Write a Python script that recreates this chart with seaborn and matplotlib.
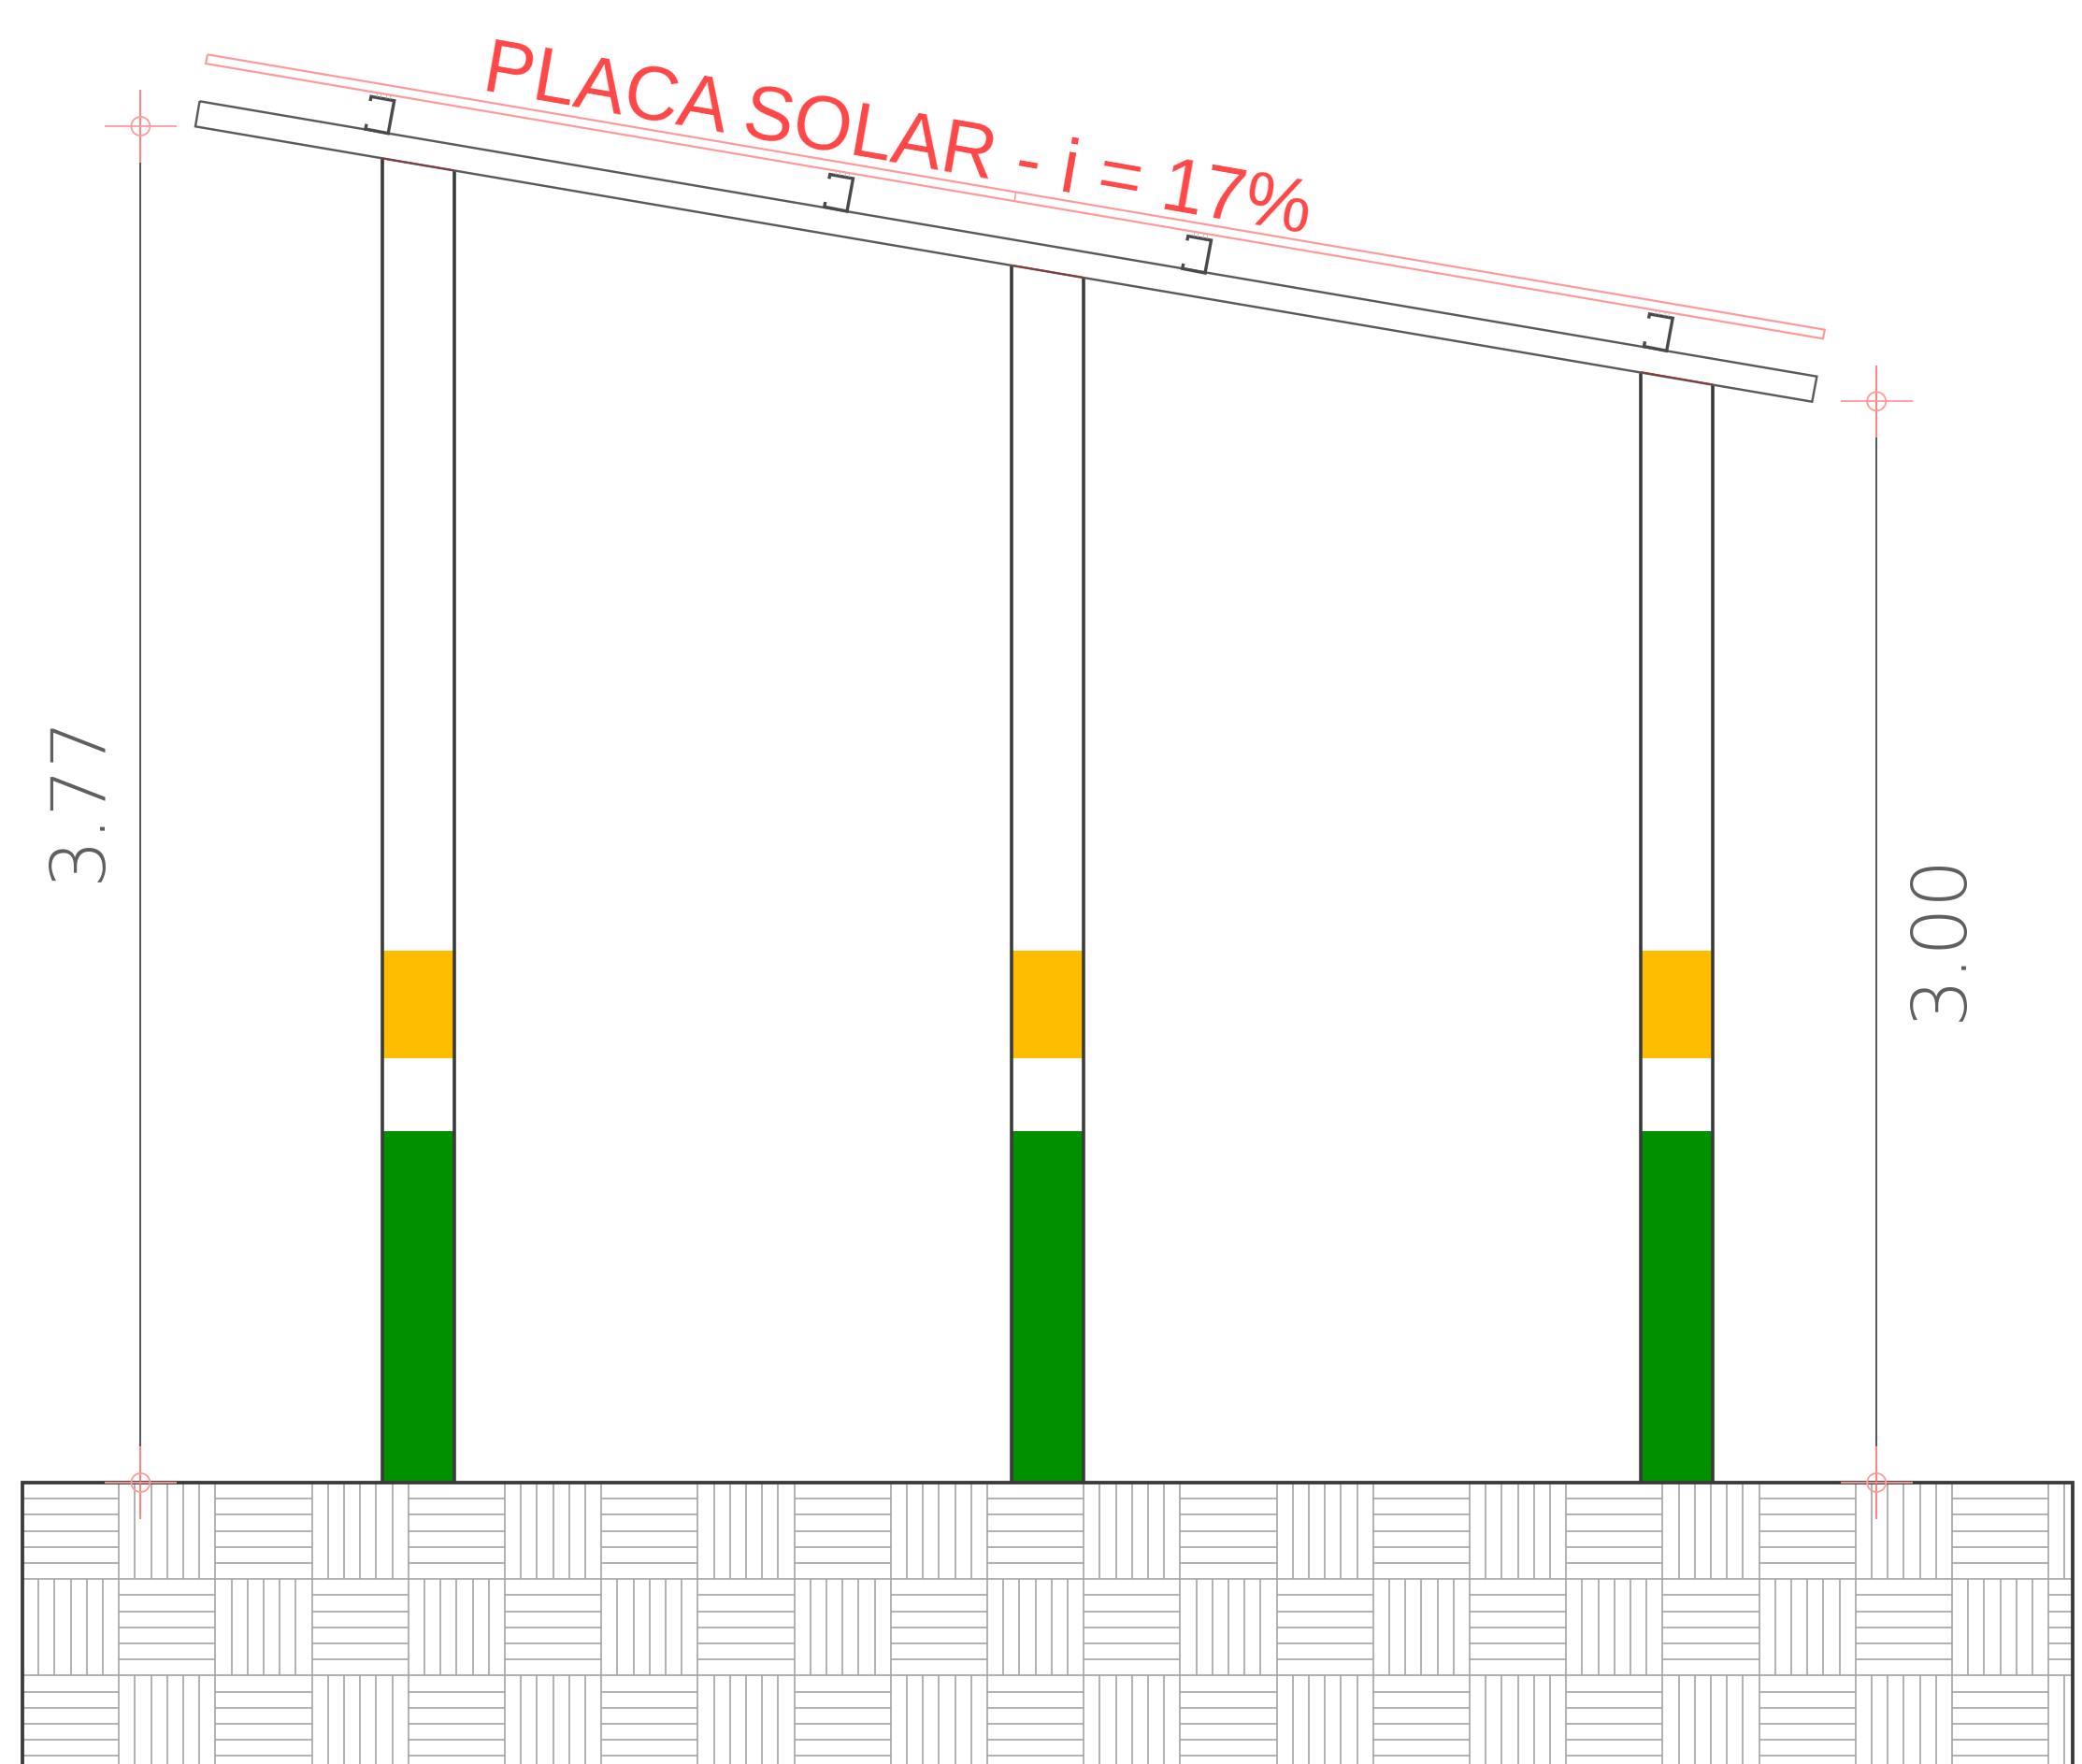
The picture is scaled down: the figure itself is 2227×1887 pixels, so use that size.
import numpy as np
import pandas as pd
import matplotlib
matplotlib.use("Agg")
import matplotlib.pyplot as plt
from matplotlib import font_manager as fm
from matplotlib.patches import Rectangle, Circle
import seaborn as sns

sns.set_theme(style="white")

W, H = 2227, 1887
# ground
ground_left, ground_right, ground_top = 24.0, 2217.0, 1586.0
tile = 103.2
strip = 17.2
# posts
post_left = [408.6, 1082.0, 1755.3]
post_width = 77.0
post_top_left = [169.3, 283.8, 398.0]
post_top_right = [182.3, 297.0, 411.5]
orange_span = (1017, 1132)
green_span = (1210, 1586)
# beam and panel outlines
beam_x = [213.5, 1943.4, 1938.3, 209.0, 213.5]
beam_y = [108.3, 402.7, 429.7, 135.3, 108.3]
panel_x = [222.0, 1951.8, 1950.0, 220.0, 222.0]
panel_y = [58.3, 352.7, 362.3, 68.0, 58.3]
divider_x = [1086.5, 1085.2]
divider_y = [205.5, 215.2]
# purlins: foot of the web, and C profile relative to it
purlin_x = [415.2, 906.0, 1289.0, 1782.7]
purlin_y = [142.7, 226.0, 292.0, 375.3]
c_dx = [-19.2, -18.2, 6.5, 0.0, -24.2, -23.2]
c_dy = [-34.7, -39.4, -35.0, 0.0, -4.7, -10.0]
# dimension lines
dim_left_x, dim_right_x = 150.4, 2007.2
dim_left_mark_y, dim_right_mark_y = 135.0, 429.3
dim_bottom_mark_y = 1586.0
mark_arm, mark_radius, dim_gap = 38.6, 10.0, 39.0
# text
title = "PLACA SOLAR - i = 17%"
dim_left_label, dim_right_label = "3.77", "3.00"

RED_SOFT = "#ff9a9a"
RED = "#ff5a5a"
DARK = "#3a3a3a"
HATCH = "#a6a6a6"
px = 72 / 100


def segs(ax, xs, ys, color, width, z=2):
    """Draw separate polylines through seaborn."""
    rows = [(i, x, y) for i, (a, b) in enumerate(zip(xs, ys)) for x, y in zip(a, b)]
    df = pd.DataFrame(rows, columns=["id", "x", "y"])
    sns.lineplot(data=df, x="x", y="y", units="id", estimator=None, sort=False,
                 color=color, linewidth=width * px, ax=ax, zorder=z, legend=False,
                 solid_capstyle="butt", solid_joinstyle="miter")


def thin_font():
    """Lightest installed face, wide digits first."""
    fonts = fm.fontManager.ttflist
    def w(f):
        return f.weight if isinstance(f.weight, int) else {"ultralight": 100, "light": 200, "extra light": 200,
                                                           "thin": 100, "hairline": 100}.get(str(f.weight).lower(), 400)
    for key in ("DejaVu Sans", "Inter", "Lato", "Open Sans", "Noto Sans", "Roboto"):
        cands = [f for f in fonts if f.name.startswith(key) and "CJK" not in f.name
                 and f.style == "normal" and (w(f) <= 250 or any(t in f.name for t in ("Thin", "Hairline", "ExtraLight")))]
        if cands:
            return fm.FontProperties(fname=min(cands, key=w).fname)
    return fm.FontProperties(family="Roboto", weight=100)


fig = plt.figure(figsize=(W / 100, H / 100), dpi=100)
ax = fig.add_axes([0, 0, 1, 1])

# hatch
hx, hy = [], []
for r in range(3):
    y0 = ground_top + r * tile
    for c in range(22):
        x0 = ground_left + c * tile
        x1 = min(x0 + tile, ground_right)
        y1 = min(y0 + tile, H + 5)
        hx.append([x0, x1]); hy.append([y1, y1])
        if x0 + tile <= ground_right:
            hx.append([x1, x1]); hy.append([y0, y1])
        for k in range(1, 6):
            if (r + c) % 2 == 0:
                hx.append([x0, x1]); hy.append([y0 + k * strip] * 2)
            else:
                xk = x0 + k * strip
                if xk < ground_right:
                    hx.append([xk, xk]); hy.append([y0, y1])
segs(ax, hx, hy, HATCH, 1.7, z=1)

# posts
for xl, tl, tr in zip(post_left, post_top_left, post_top_right):
    xr = xl + post_width
    ax.add_patch(Rectangle((xl, orange_span[0]), post_width, orange_span[1] - orange_span[0],
                           fc="#ffbd00", ec="none", zorder=2))
    ax.add_patch(Rectangle((xl, green_span[0]), post_width, green_span[1] - green_span[0],
                           fc="#009000", ec="none", zorder=2))
    segs(ax, [[xl, xl], [xr, xr]], [[tl, ground_top], [tr, ground_top]], DARK, 3.6, z=3)
    segs(ax, [[xl, xr]], [[tl, tr]], "#8a3a3a", 1.8, z=4)

# ground outline
segs(ax, [[ground_left, ground_left, ground_right, ground_right]],
     [[H + 5, ground_top, ground_top, H + 5]], DARK, 3.8, z=3)

# beam, panel
segs(ax, [beam_x], [beam_y], "#5a5a5a", 2.4, z=3)
segs(ax, [panel_x], [panel_y], RED_SOFT, 2.2, z=3)
segs(ax, [divider_x], [divider_y], RED_SOFT, 1.5, z=3)

# purlins
slope = 0.17
for px0, py0 in zip(purlin_x, purlin_y):
    segs(ax, [[px0 + a for a in c_dx]], [[py0 + b for b in c_dy]], "#4a4a4a", 3.4, z=4)
    tx, ty = [], []
    for d in (-12.0, -8.0, -2.0, 2.0):
        xt = px0 + d
        yt = py0 - 37.5 + slope * (d + 4)
        tx.append([xt, xt + 0.7]); ty.append([yt, yt - 4.5])
    segs(ax, tx, ty, "#bbbbbb", 0.9, z=4)

# dimension lines and marks
for x0, ym in ((dim_left_x, dim_left_mark_y), (dim_right_x, dim_right_mark_y)):
    segs(ax, [[x0, x0]], [[ym + dim_gap, dim_bottom_mark_y - dim_gap]], "#222222", 1.5, z=2)
    for y in (ym, dim_bottom_mark_y):
        segs(ax, [[x0, x0]], [[y - mark_arm, y + mark_arm]], RED, 1.5, z=5)
        segs(ax, [[x0 - mark_arm, x0 + mark_arm]], [[y, y]], RED_SOFT, 1.8, z=5)
        ax.add_patch(Circle((x0, y), mark_radius, fc="none", ec=RED_SOFT, lw=1.8 * px, zorder=5))

ax.set_xlim(0, W)
ax.set_ylim(H, 0)
ax.set_xlabel(""); ax.set_ylabel("")
ax.set_xticks([]); ax.set_yticks([])
sns.despine(ax=ax, left=True, bottom=True)
ax.set_facecolor("white")

ax.text(960, 152, title, rotation=-9.9, rotation_mode="anchor", ha="center", va="center",
        family="Liberation Sans", fontsize=58, color="#ff4646", zorder=6)

thin = thin_font()
renderer = fig.canvas.get_renderer()
for label, cx, cy, length in ((dim_left_label, 85, 852.5, 181.0), (dim_right_label, 2076, 1001.5, 181.0)):
    t = ax.text(cx, cy, label, rotation=90, ha="center", va="center", fontproperties=thin,
                fontsize=60, color="#5e5e5e", zorder=6)
    t.set_fontsize(60 * length / t.get_window_extent(renderer).height)

fig.savefig("out.png", dpi=100, facecolor="white")
